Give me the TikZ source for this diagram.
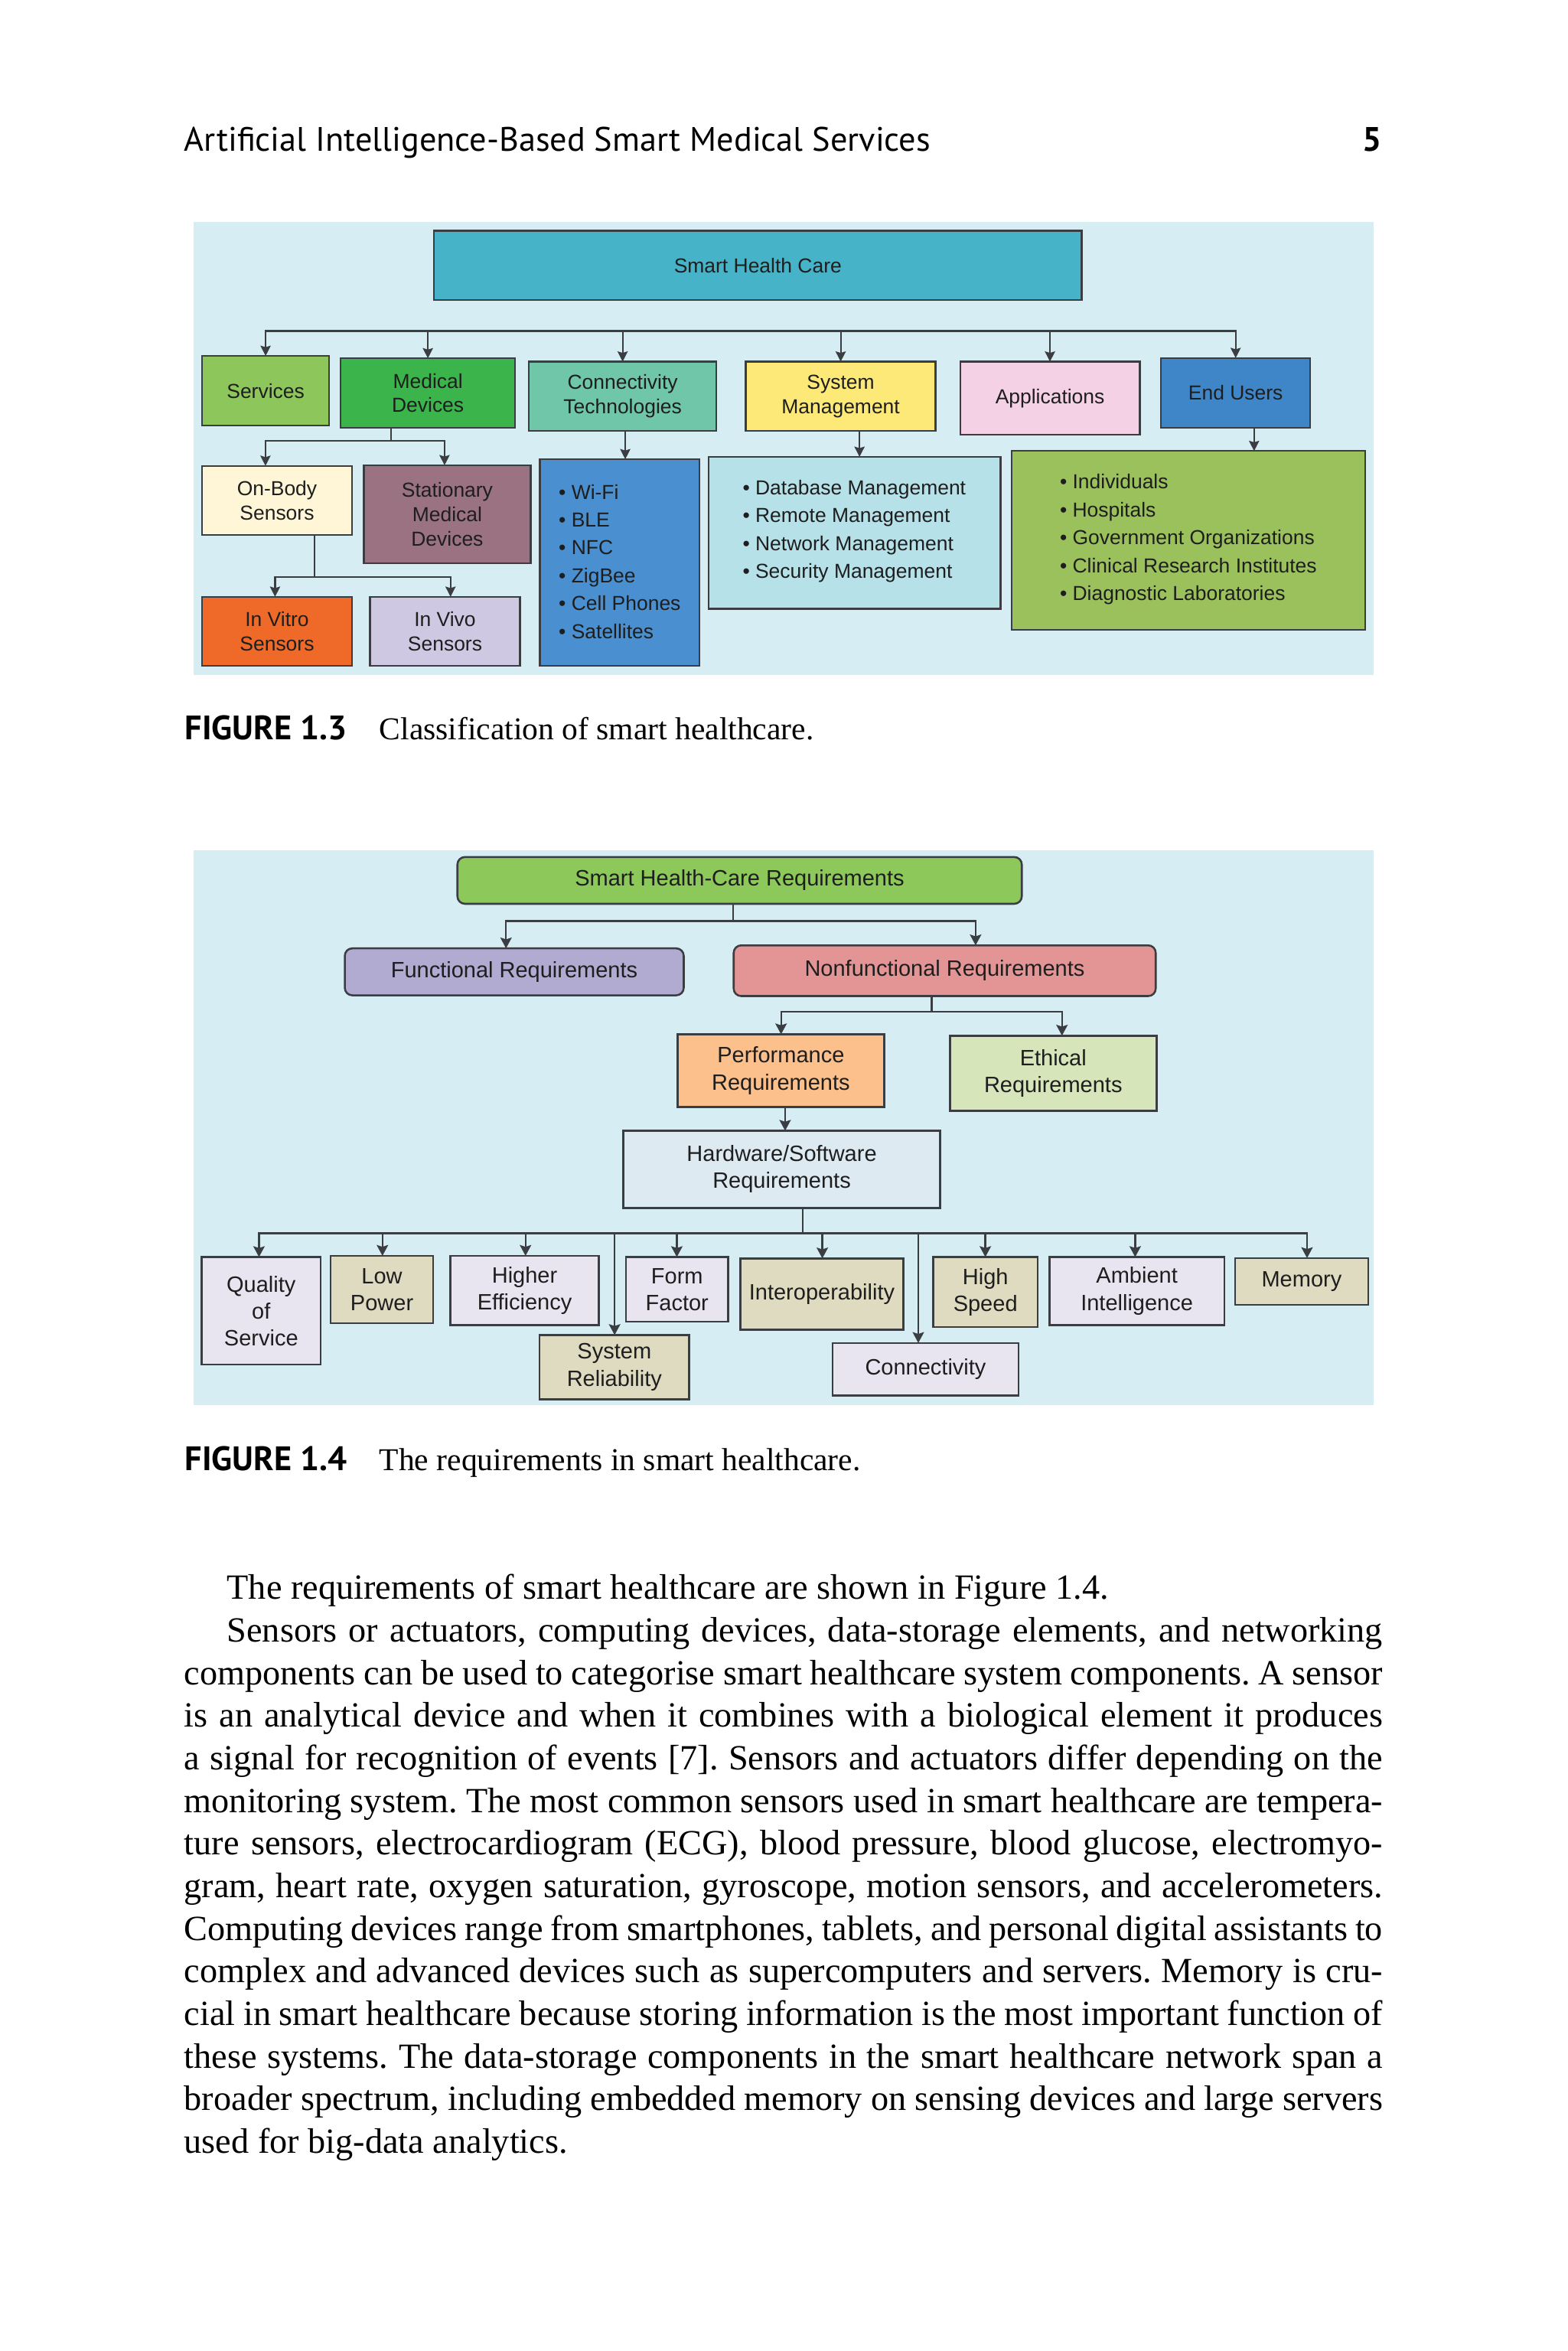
\documentclass[tikz,border=0pt]{standalone}
\usepackage{fontspec}
\setmainfont{Liberation Serif}
\newfontfamily\diagfont{Liberation Sans}
\newfontfamily\headfont{PT Sans}
\usetikzlibrary{arrows.meta}
\definecolor{bgblue}{HTML}{D6EDF3}
\definecolor{linec}{HTML}{3A3E42}
\definecolor{txtc}{HTML}{1E1E1E}
\definecolor{cTop}{HTML}{46B3C9}
\definecolor{cSvc}{HTML}{8DC65A}
\definecolor{cMed}{HTML}{3BB44B}
\definecolor{cCon}{HTML}{6FC6A9}
\definecolor{cSys}{HTML}{FDE978}
\definecolor{cApp}{HTML}{F4D1E4}
\definecolor{cEnd}{HTML}{3F86C8}
\definecolor{cOnb}{HTML}{FEF6D6}
\definecolor{cSta}{HTML}{9A7282}
\definecolor{cVit}{HTML}{EF6A29}
\definecolor{cViv}{HTML}{CEC8E2}
\definecolor{cConL}{HTML}{4A90D0}
\definecolor{cSysL}{HTML}{B6E1E9}
\definecolor{cEndL}{HTML}{9BC15C}
\definecolor{cReq}{HTML}{8DC85A}
\definecolor{cFun}{HTML}{B1AAD1}
\definecolor{cNon}{HTML}{E39596}
\definecolor{cPerf}{HTML}{FBC08C}
\definecolor{cEth}{HTML}{D7E6BA}
\definecolor{cHw}{HTML}{DEEAF2}
\definecolor{cLav}{HTML}{E9E5F0}
\definecolor{cKha}{HTML}{DEDBC1}
\newcommand\fullline[1]{\makebox[399.55pt][s]{#1}}
\newcommand\indline[1]{\makebox[385.3pt][s]{#1}}
\frenchspacing
\tikzset{
  bx/.style args={#1/#2/#3/#4}{at={({(#1+#3)/2},{(#2+#4)/2})}, minimum width={(#3-#1)*0.5pt}, minimum height={(#4-#2)*0.5pt}},
  boxa/.style={draw=linec, line width=0.6pt, inner sep=0pt, outer sep=0pt, align=center, text=txtc, font=\diagfont\fontsize{6.75}{8.15}\selectfont},
  boxb/.style={boxa, line width=0.65pt, font=\diagfont\fontsize{7.4}{8.95}\selectfont},
  rboxb/.style={boxb, rounded corners=2.5pt},
  listt/.style={inner sep=0pt, align=left, text=txtc, anchor=west, font=\diagfont\fontsize{6.75}{9.3}\selectfont},
  conn/.style={draw=linec, line width=0.55pt},
  arr/.style={conn, -{Stealth[length=3.4pt,width=3.4pt,inset=0.5pt]}},
  arrtwo/.style={conn, {Stealth[length=3.4pt,width=3.4pt,inset=0.5pt]}-{Stealth[length=3.4pt,width=3.4pt,inset=0.5pt]}},
  arrb/.style={conn, line width=0.6pt, -{Stealth[length=3.6pt,width=3.8pt,inset=0.6pt]}},
  arrtwob/.style={conn, line width=0.6pt, {Stealth[length=3.6pt,width=3.8pt,inset=0.6pt]}-{Stealth[length=3.6pt,width=3.8pt,inset=0.6pt]}},
  connb/.style={conn, line width=0.6pt},
  bodyt/.style={inner sep=0pt, anchor=base west, font=\fontsize{11.8}{14.2}\selectfont},
  capl/.style={inner sep=0pt, anchor=base west, font=\headfont\bfseries\fontsize{11.3}{12}\selectfont},
  capt/.style={inner sep=0pt, anchor=base west, font=\fontsize{10.6}{12}\selectfont},
}
\begin{document}
\begin{tikzpicture}[x=0.5pt,y=-0.5pt]
\useasboundingbox[fill=white] (0,0) rectangle (1045,1567.5);
% header
\node[inner sep=0pt, anchor=base west, font=\headfont\fontsize{11.3}{12}\selectfont] (hdr) at (122.5,101) {Artificial Intelligence-Based Smart Medical Services};
\node[inner sep=0pt, anchor=base east, font=\headfont\bfseries\fontsize{11.3}{12}\selectfont] (pg) at (921.6,101) {5};

% ================= Figure 1.3 =================
\fill[bgblue] (129,148) rectangle (916,450);
\node[boxa, fill=cTop, bx=289.3/153.8/721.3/200] (sh) {Smart Health Care};
\node[boxa, fill=cSvc, bx=134.8/237.3/219.4/283.8] (svc) {Services};
\node[boxa, fill=cMed, bx=227.1/238.9/343.5/285.2] (md) {Medical\\Devices};
\node[boxa, fill=cCon, bx=352.6/241.1/477.7/287.4] (ct) {Connectivity\\Technologies};
\node[boxa, fill=cSys, bx=497.3/241.1/623.8/287.4] (sm) {System\\Management};
\node[boxa, fill=cApp, bx=640.2/241.1/760/289.8] (app) {Applications};
\node[boxa, fill=cEnd, bx=774.1/238.7/873.7/285.2] (eu) {End Users};
\node[boxa, fill=cOnb, bx=134.8/310.6/234.6/356.6] (obs) {On-Body\\Sensors};
\node[boxa, fill=cSta, bx=242.6/310.2/353.8/375.7] (smd) {Stationary\\Medical\\Devices};
\node[boxa, fill=cVit, bx=134.8/397.9/234.6/444] (ivt) {In Vitro\\Sensors};
\node[boxa, fill=cViv, bx=246.7/397.9/346.7/444] (ivv) {In Vivo\\Sensors};
\node[boxa, fill=cConL, bx=359.9/306.2/466.3/444] (ctl) {};
\node[boxa, fill=cSysL, bx=472.4/304.6/667.2/405.9] (sml) {};
\node[boxa, fill=cEndL, bx=674.5/300.7/910.3/419.8] (eul) {};
\node[listt] (ctlt) at (372.2,374.4) {• Wi-Fi\\• BLE\\• NFC\\• ZigBee\\• Cell Phones\\• Satellites};
\node[listt] (smlt) at (494.8,354.3) {• Database Management\\• Remote Management\\• Network Management\\• Security Management};
\node[listt] (eult) at (706.3,359.7) {• Individuals\\• Hospitals\\• Government Organizations\\• Clinical Research Institutes\\• Diagnostic Laboratories};
% connectors
\coordinate (bus) at (177,220.7);
\draw[arrtwo] (svc.north) -- (svc.north |- bus) -- (eu.north |- bus) -- (eu.north);
\draw[arr] (md.north |- bus) -- (md.north);
\draw[arr] (ct.north |- bus) -- (ct.north);
\draw[arr] (sm.north |- bus) -- (sm.north);
\draw[arr] (app.north |- bus) -- (app.north);
\coordinate (mdj) at (260.8,294.1);
\coordinate (obsin) at (177,294.1);
\coordinate (smdin) at (296.4,294.1);
\draw[conn] (mdj |- md.south) -- (mdj);
\draw[arrtwo] (obsin |- obs.north) -- (obsin) -- (smdin) -- (smdin |- smd.north);
\coordinate (obj) at (209.6,384.6);
\coordinate (ivtin) at (183.4,384.6);
\coordinate (ivvin) at (300.4,384.6);
\draw[conn] (obj |- obs.south) -- (obj);
\draw[arrtwo] (ivtin |- ivt.north) -- (ivtin) -- (ivvin) -- (ivvin |- ivv.north);
\coordinate (ctj) at (416.9,300);
\draw[arr] (ctj |- ct.south) -- (ctj |- ctl.north);
\coordinate (smj) at (573.1,300);
\draw[arr] (smj |- sm.south) -- (smj |- sml.north);
\coordinate (euj) at (836.2,300);
\draw[arr] (euj |- eu.south) -- (euj |- eul.north);

\node[capl] (c3l) at (123,493.2) {FIGURE 1.3};
\node[capt] (c3t) at (252.6,493.2) {Classification of smart healthcare.};

% ================= Figure 1.4 =================
\fill[bgblue] (129,567) rectangle (916,937);
\node[rboxb, fill=cReq, bx=305/571.4/681.3/602.6] (req) {Smart Health-Care Requirements};
\node[rboxb, fill=cFun, bx=229.9/632.3/455.9/663.6] (fr) {Functional Requirements};
\node[rboxb, fill=cNon, bx=489.2/630.3/770.6/664.1] (nfr) {Nonfunctional Requirements};
\node[boxb, fill=cPerf, bx=451.8/689.6/589.5/738.1] (perf) {Performance\\Requirements};
\node[boxb, fill=cEth, bx=633.4/690.5/771.1/740.7] (eth) {Ethical\\Requirements};
\node[boxb, fill=cHw, bx=415.6/753.9/626.9/805.3] (hw) {Hardware/Software\\Requirements};
\node[boxb, fill=cLav, bx=134.4/838.1/213.9/909.8] (qos) {Quality\\of\\Service};
\node[boxb, fill=cKha, bx=220.4/837.3/288.9/882.2] (lp) {Low\\Power};
\node[boxb, fill=cLav, bx=300.3/837.3/399.3/883.5] (he) {Higher\\Efficiency};
\node[boxb, fill=cKha, bx=359.8/890.1/459.5/932.9] (sr) {System\\Reliability};
\node[boxb, fill=cLav, bx=417.4/838.1/485.5/881.3] (ff) {Form\\Factor};
\node[boxb, fill=cKha, bx=493.6/839/602.4/886.6] (iop) {Interoperability};
\node[boxb, fill=cLav, bx=555.2/895.4/679.1/930.3] (cn) {Connectivity};
\node[boxb, fill=cKha, bx=622.3/838.1/691.8/884.7] (hs) {High\\Speed};
\node[boxb, fill=cLav, bx=699.8/838.1/816.3/883.5] (ai) {Ambient\\Intelligence};
\node[boxb, fill=cKha, bx=823.5/838.8/912.3/869.9] (mem) {Memory};
% connectors
\coordinate (tj) at (488.7,614);
\coordinate (fin) at (337.4,614);
\coordinate (nin) at (650.5,614);
\draw[connb] (tj |- req.south) -- (tj);
\draw[arrtwob] (fin |- fr.north) -- (fin) -- (nin) -- (nin |- nfr.north);
\coordinate (nj) at (621.3,674.6);
\coordinate (pin) at (520.8,674.6);
\coordinate (ein) at (708.1,674.6);
\draw[connb] (nj |- nfr.south) -- (nj);
\draw[arrtwob] (pin |- perf.north) -- (pin) -- (ein) -- (ein |- eth.north);
\coordinate (pj) at (523.5,745);
\draw[arrb] (pj |- perf.south) -- (pj |- hw.north);
\coordinate (hj) at (535.2,822.3);
\draw[connb] (hj |- hw.south) -- (hj);
\coordinate (b1) at (172.7,822.3);
\coordinate (b2) at (255,822.3);
\coordinate (b3) at (350.4,822.3);
\coordinate (b4) at (409.8,822.3);
\coordinate (b5) at (451.3,822.3);
\coordinate (b6) at (548.3,822.3);
\coordinate (b7) at (612.3,822.3);
\coordinate (b8) at (657,822.3);
\coordinate (b9) at (756.9,822.3);
\coordinate (b10) at (871.5,822.3);
\draw[arrtwob] (b1 |- qos.north) -- (b1) -- (b10) -- (b10 |- mem.north);
\draw[arrb] (b2) -- (b2 |- lp.north);
\draw[arrb] (b3) -- (b3 |- he.north);
\draw[arrb] (b4) -- (b4 |- sr.north);
\draw[arrb] (b5) -- (b5 |- ff.north);
\draw[arrb] (b6) -- (b6 |- iop.north);
\draw[arrb] (b7) -- (b7 |- cn.north);
\draw[arrb] (b8) -- (b8 |- hs.north);
\draw[arrb] (b9) -- (b9 |- ai.north);

\node[capl] (c4l) at (123,980.2) {FIGURE 1.4};
\node[capt] (c4t) at (252.6,980.2) {The requirements in smart healthcare.};

% ================= body text =================
\node[bodyt] (l1) at (151,1066.3) {The requirements of smart healthcare are shown in Figure 1.4.};
\node[bodyt] (l2) at (151,1094.7) {\indline{Sensors or actuators, computing devices, data-storage elements, and networking}};
\node[bodyt] (l3) at (122.5,1123.1) {\fullline{components can be used to categorise smart healthcare system components. A sensor}};
\node[bodyt] (l4) at (122.5,1151.5) {\fullline{is an analytical device and when it combines with a biological element it produces}};
\node[bodyt] (l5) at (122.5,1179.9) {\fullline{a signal for recognition of events [7]. Sensors and actuators differ depending on the}};
\node[bodyt] (l6) at (122.5,1208.3) {\fullline{monitoring system. The most common sensors used in smart healthcare are tempera-}};
\node[bodyt] (l7) at (122.5,1236.7) {\fullline{ture sensors, electrocardiogram (ECG), blood pressure, blood glucose, electromyo-}};
\node[bodyt] (l8) at (122.5,1265.1) {\fullline{gram, heart rate, oxygen saturation, gyroscope, motion sensors, and accelerometers.}};
\node[bodyt] (l9) at (122.5,1293.5) {\fullline{Computing devices range from smartphones, tablets, and personal digital assistants to}};
\node[bodyt] (l10) at (122.5,1321.9) {\fullline{complex and advanced devices such as supercomputers and servers. Memory is cru-}};
\node[bodyt] (l11) at (122.5,1350.3) {\fullline{cial in smart healthcare because storing information is the most important function of}};
\node[bodyt] (l12) at (122.5,1378.7) {\fullline{these systems. The data-storage components in the smart healthcare network span a}};
\node[bodyt] (l13) at (122.5,1407.1) {\fullline{broader spectrum, including embedded memory on sensing devices and large servers}};
\node[bodyt] (l14) at (122.5,1435.5) {used for big-data analytics.};
\end{tikzpicture}
\end{document}
